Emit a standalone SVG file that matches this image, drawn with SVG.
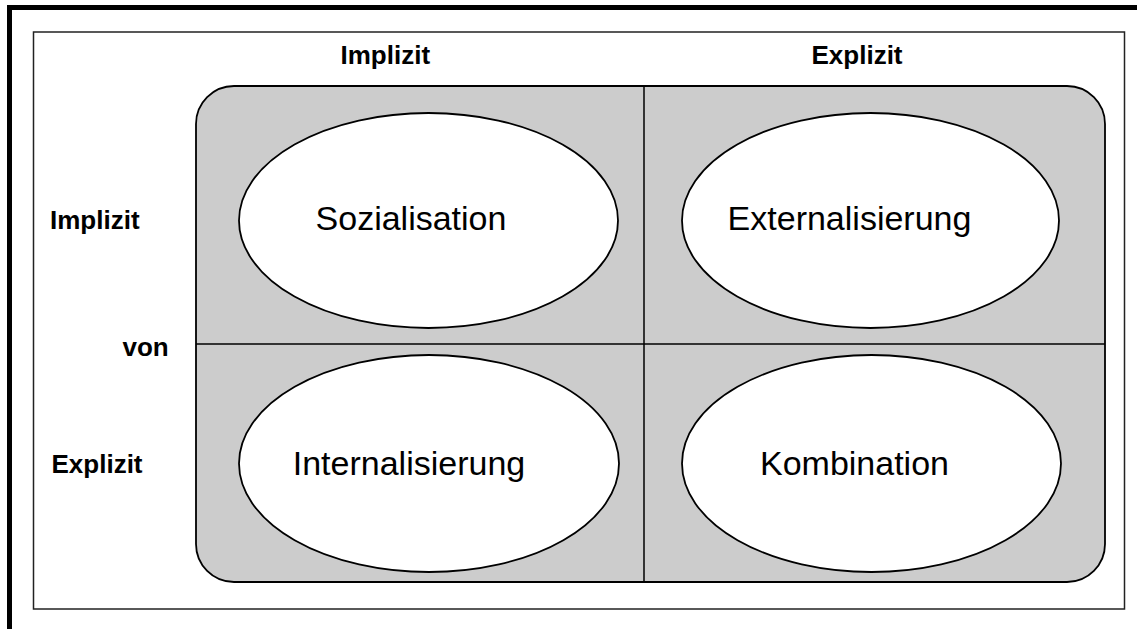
<svg xmlns="http://www.w3.org/2000/svg" width="1137" height="629" viewBox="0 0 1137 629">
<style>
.lbl{font-family:"Liberation Sans",Arial,sans-serif;font-weight:bold;font-size:26px;fill:#000}
.node{fill:#fff;stroke:#000;stroke-width:1.8}
.nt{font-family:"Liberation Sans",Arial,sans-serif;font-size:34px;fill:#000}
.div{stroke:#000;stroke-width:1.5;fill:none}
</style>
<rect x="0" y="0" width="1137" height="629" fill="#fff"/>
<rect x="9.5" y="7.5" width="1140" height="640" fill="none" stroke="#000" stroke-width="5"/>
<rect x="33.5" y="32" width="1091" height="577" fill="none" stroke="#222" stroke-width="1.5"/>
<rect id="matrix" x="196" y="86" width="909" height="496" rx="38" ry="38" fill="#cccccc" stroke="#000" stroke-width="1.8"/>
<g id="connectors">
<line class="div" x1="644" y1="86" x2="644" y2="582"/>
<line class="div" x1="196" y1="344" x2="1105" y2="344"/>
</g>
<g id="labels">
<text class="lbl" x="340.5" y="64">Implizit</text>
<text class="lbl" x="811.5" y="64">Explizit</text>
<text class="lbl" x="50" y="229">Implizit</text>
<text class="lbl" x="122.5" y="356">von</text>
<text class="lbl" x="51.5" y="473">Explizit</text>
</g>
<g id="sozialisation">
<ellipse class="node" cx="428.5" cy="220.5" rx="189.5" ry="107.5"/>
<text class="nt" x="411" y="230" text-anchor="middle">Sozialisation</text>
</g>
<g id="externalisierung">
<ellipse class="node" cx="870.5" cy="220.5" rx="188.5" ry="107.5"/>
<text class="nt" x="849.5" y="230" text-anchor="middle">Externalisierung</text>
</g>
<g id="internalisierung">
<ellipse class="node" cx="429" cy="463.5" rx="190" ry="108.5"/>
<text class="nt" x="409" y="475" text-anchor="middle">Internalisierung</text>
</g>
<g id="kombination">
<ellipse class="node" cx="871.5" cy="463.5" rx="189.5" ry="108.5"/>
<text class="nt" x="854.5" y="475" text-anchor="middle">Kombination</text>
</g>
</svg>
